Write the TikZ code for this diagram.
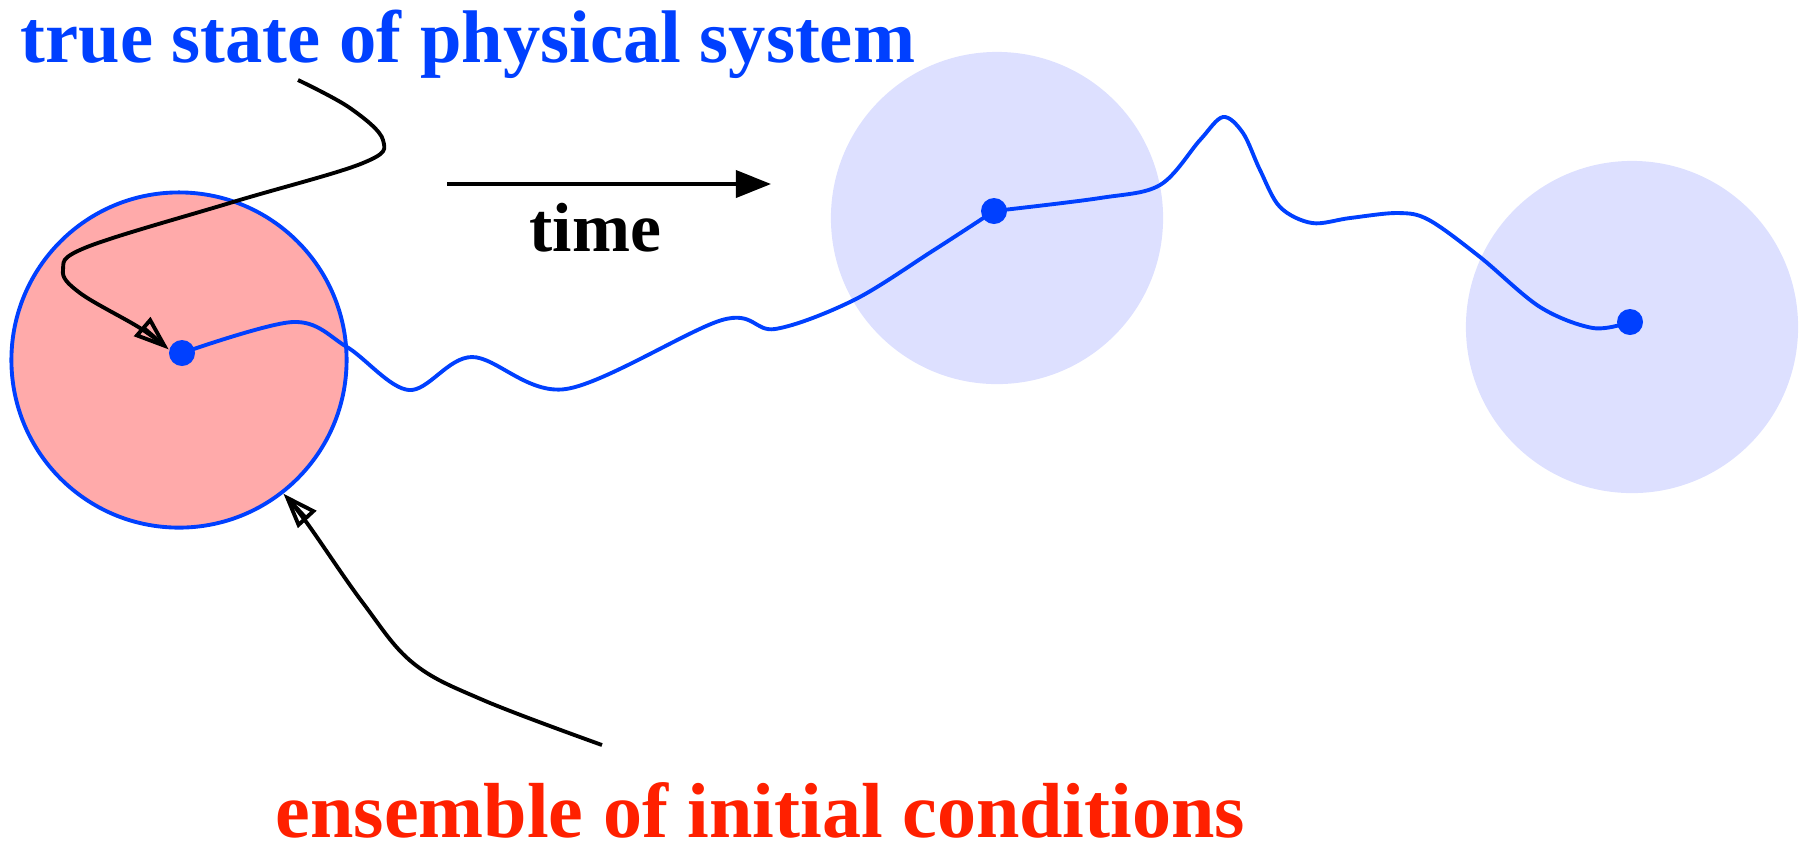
\documentclass[tikz,border=0pt]{standalone}
\usepackage{fontspec}
\setmainfont{Liberation Serif}
\usetikzlibrary{arrows.meta,positioning}
\definecolor{TrajBlue}{HTML}{0040FF}
\definecolor{EnsRed}{HTML}{FF2000}
\definecolor{EnsPink}{HTML}{FFAAAA}
\definecolor{EnsLilac}{HTML}{DDE0FF}
\tikzset{
  ensemble/.style={circle,minimum size=3.32cm,inner sep=0pt,fill=EnsLilac},
  initial/.style={ensemble,minimum size=3.35cm,fill=EnsPink,draw=TrajBlue,line width=1.1pt},
  state/.style={circle,fill=TrajBlue,minimum size=0.26cm,inner sep=0pt},
  traj/.style={draw=TrajBlue,line width=1.1pt},
  pointer/.style={-{Triangle[open,length=10pt,width=7pt]},line width=1.1pt,black},
  timeflow/.style={-{Triangle[length=10pt,width=7.7pt]},line width=1.1pt,black},
  lbl/.style={inner sep=0pt,text depth=0pt,anchor=base west}
}

\begin{document}
\begin{tikzpicture}[x=0.01cm,y=-0.01cm]
  \useasboundingbox (0,0) rectangle (1803,847);
  \node[initial] (e0) at (179,360) {};
  \node[ensemble] (e1) at (997,218) {};
  \node[ensemble] (e2) at (1632,327) {};
  \node[state] (s0) at (182,353) {};
  \node[state] (s1) at (994,211) {};
  \node[state] (s2) at (1630,322) {};
  \draw[traj] plot[smooth,tension=0.55] coordinates {(s0.center) (293,322) (347,347)
    (409,390) (472,357) (566,389) (722,320) (775,329) (854,300) (934,250) (s1.center)};
  \draw[traj] plot[smooth,tension=0.55] coordinates {(s1.center) (1100,198) (1160,185)
    (1200,140) (1223,117) (1243,133) (1260,170) (1280,207) (1312,223) (1350,218)
    (1398,213) (1429,220) (1480,257) (1540,307) (1593,328) (s2.center)};
  \node[lbl,text=TrajBlue,font=\fontsize{21.2pt}{25pt}\selectfont\bfseries] (truelbl) at (20,62) {true state of physical system};
  \coordinate (truetail) at (298,80);
  \draw[pointer] plot[smooth,tension=0.6] coordinates {(truetail) (350,108) (383,140)
    (363,163) (233,202) (87,247) (63,270) (80,293) (140,328) (s0.165)};
  \coordinate (t0) at (447,184);
  \coordinate (t1) at (771,184);
  \draw[timeflow] (t0) -- (t1);
  \node[lbl,font=\fontsize{19.8pt}{24pt}\selectfont\bfseries] (timelbl) at (529,251) {time};
  \coordinate (enstail) at (602,745);
  \draw[pointer] plot[smooth,tension=0.6] coordinates {(enstail) (483,700) (413,663)
    (363,603) (307,523) (e0.-52)};
  \node[lbl,text=EnsRed,font=\fontsize{22.2pt}{26pt}\selectfont\bfseries] (enslbl) at (275,837) {ensemble of initial conditions};
\end{tikzpicture}
\end{document}
